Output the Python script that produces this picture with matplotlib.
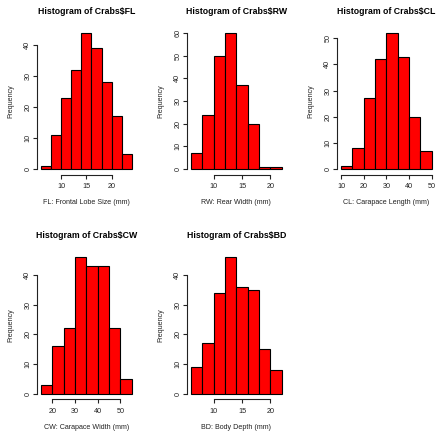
import numpy as np
from matplotlib import pyplot as plt

plt.rcParams['font.family'] = ['Liberation Sans', 'DejaVu Sans']

# 频数数据
fl_edges = [6, 8, 10, 12, 14, 16, 18, 20, 22, 24]
fl_counts = [1, 11, 23, 32, 44, 39, 28, 17, 5]
rw_edges = [6, 8, 10, 12, 14, 16, 18, 20, 22]
rw_counts = [7, 24, 50, 60, 37, 20, 1, 1]
cl_edges = [10, 15, 20, 25, 30, 35, 40, 45, 50]
cl_counts = [1, 8, 27, 42, 52, 43, 20, 7]
cw_edges = [15, 20, 25, 30, 35, 40, 45, 50, 55]
cw_counts = [3, 16, 22, 46, 43, 43, 22, 5]
bd_edges = [6, 8, 10, 12, 14, 16, 18, 20, 22]
bd_counts = [9, 17, 34, 46, 36, 35, 15, 8]

fl_xticks = [10, 15, 20]
rw_xticks = [10, 15, 20]
cl_xticks = [10, 20, 30, 40, 50]
cw_xticks = [20, 30, 40, 50]
bd_xticks = [10, 15, 20]

fl_yticks = [0, 10, 20, 30, 40]
rw_yticks = [0, 10, 20, 30, 40, 50, 60]
cl_yticks = [0, 10, 20, 30, 40, 50]
cw_yticks = [0, 10, 20, 30, 40]
bd_yticks = [0, 10, 20, 30, 40]

W, H = 436, 432


def add_panel(fig, left, top, edges, counts, xticks, yticks, title, xlabel):
    # R 风格的直方图
    ax = fig.add_axes([left / W, 1 - (top + 147) / H, 98 / W, 147 / H])
    edges = np.array(edges)
    counts = np.array(counts)
    ax.bar(edges[:-1], counts, width=np.diff(edges), align='edge',
           color='#ff0000', edgecolor='black', linewidth=0.8)

    xr = edges[-1] - edges[0]
    ax.set_xlim(edges[0] - 0.04 * xr, edges[-1] + 0.04 * xr)
    ymax = counts.max()
    ax.set_ylim(-0.04 * ymax, ymax * 1.04)

    for s in ['top', 'right']:
        ax.spines[s].set_visible(False)
    ax.spines['left'].set_bounds(yticks[0], yticks[-1])
    ax.spines['bottom'].set_bounds(xticks[0], xticks[-1])
    for s in ['left', 'bottom']:
        ax.spines[s].set_linewidth(0.8)
        ax.spines[s].set_color('#222222')

    ax.set_xticks(xticks)
    ax.set_yticks(yticks)
    ax.tick_params(axis='both', length=3.1, width=0.8, labelsize=5.2,
                   color='#222222', labelcolor='#222222')
    ax.tick_params(axis='x', pad=3.2)
    ax.tick_params(axis='y', pad=1.3)
    for lab in ax.get_yticklabels():
        lab.set_rotation(90)
        lab.set_va('center')

    ax.set_title(title, fontsize=6.3, fontweight='bold', pad=10)
    ax.set_xlabel(xlabel, fontsize=5.1, labelpad=6.5, color='#222222')
    ax.set_ylabel('Frequency', fontsize=5.1, labelpad=7, color='#222222')
    return ax


fig = plt.figure(figsize=(4.36, 4.32), dpi=100)

add_panel(fig, 37.4, 27.5, fl_edges, fl_counts, fl_xticks, fl_yticks,
          'Histogram of Crabs$FL', 'FL: Frontal Lobe Size (mm)')
add_panel(fig, 187.4, 27.5, rw_edges, rw_counts, rw_xticks, rw_yticks,
          'Histogram of Crabs$RW', 'RW: Rear Width (mm)')
add_panel(fig, 337.4, 27.5, cl_edges, cl_counts, cl_xticks, cl_yticks,
          'Histogram of Crabs$CL', 'CL: Carapace Length (mm)')
add_panel(fig, 37.4, 252.0, cw_edges, cw_counts, cw_xticks, cw_yticks,
          'Histogram of Crabs$CW', 'CW: Carapace Width (mm)')
add_panel(fig, 187.4, 252.0, bd_edges, bd_counts, bd_xticks, bd_yticks,
          'Histogram of Crabs$BD', 'BD: Body Depth (mm)')

fig.savefig('out.png', dpi=100)
